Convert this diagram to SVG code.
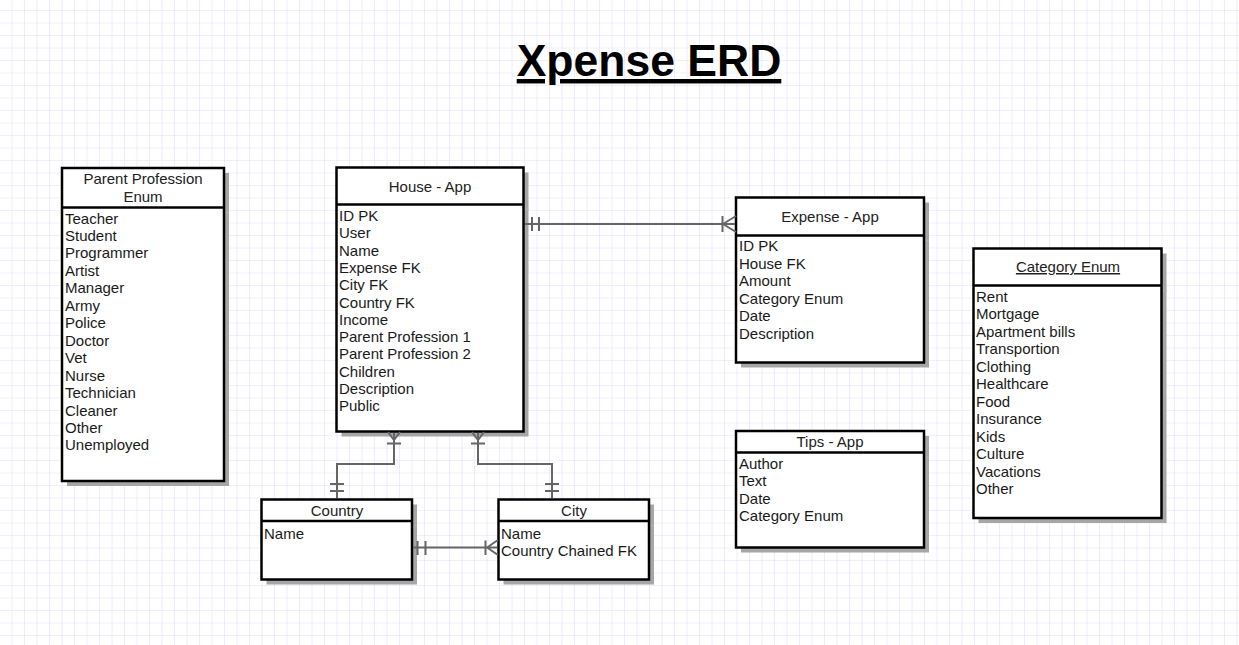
<svg xmlns="http://www.w3.org/2000/svg" width="1239" height="645" viewBox="0 0 1239 645">
<defs>
<pattern id="grid" x="0" y="-1.5" width="12.5" height="12.5" patternUnits="userSpaceOnUse">
<path d="M12.5 0V12.5M0 12.5H12.5" fill="none" stroke="#e2dffc" stroke-width="1.2"/>
</pattern>
<filter id="blur" x="-5%" y="-5%" width="110%" height="110%"><feGaussianBlur stdDeviation="0.5"/></filter>
</defs>
<style>
.box{fill:#fff;stroke:#000;stroke-width:2.5}
.div{stroke:#000;stroke-width:2.5}
.shadow{fill:#a6a6a6;filter:url(#blur)}
.sdiv{stroke:#b0b0b0;stroke-width:1.5}
.hd{font-family:"Liberation Sans",Arial,sans-serif;font-size:15px;fill:#222;text-anchor:middle}
.tx{font-family:"Liberation Sans",Arial,sans-serif;font-size:15px;fill:#1a1a1a}
.cn{fill:none;stroke:#666;stroke-width:2}
.title{font-family:"Liberation Sans",Arial,sans-serif;font-size:44.5px;font-weight:bold;fill:#000;text-anchor:middle;text-decoration:underline}
</style>
<rect width="1239" height="645" fill="#fff"/>
<rect width="1239" height="645" fill="url(#grid)"/>

<text class="title" x="649" y="76">Xpense ERD</text>

<g id="parent-profession">
<rect class="shadow" x="67" y="173" width="162" height="313"/>
<line class="sdiv" x1="224" y1="212.5" x2="229" y2="212.5"/>
<rect class="box" x="62" y="168" width="162" height="313"/>
<line class="div" x1="62" y1="207.5" x2="224" y2="207.5"/>
<text class="hd" x="143" y="184">Parent Profession</text>
<text class="hd" x="143" y="202">Enum</text>
<text class="tx" x="65" y="223.5">Teacher</text>
<text class="tx" x="65" y="241">Student</text>
<text class="tx" x="65" y="258.4">Programmer</text>
<text class="tx" x="65" y="275.9">Artist</text>
<text class="tx" x="65" y="293.3">Manager</text>
<text class="tx" x="65" y="310.8">Army</text>
<text class="tx" x="65" y="328.2">Police</text>
<text class="tx" x="65" y="345.7">Doctor</text>
<text class="tx" x="65" y="363.1">Vet</text>
<text class="tx" x="65" y="380.6">Nurse</text>
<text class="tx" x="65" y="398">Technician</text>
<text class="tx" x="65" y="415.5">Cleaner</text>
<text class="tx" x="65" y="432.9">Other</text>
<text class="tx" x="65" y="450.4">Unemployed</text>
</g>

<g id="house-app">
<rect class="shadow" x="341.5" y="172.5" width="187" height="264"/>
<line class="sdiv" x1="523" y1="209.5" x2="528.5" y2="209.5"/>
<rect class="box" x="336.5" y="167.5" width="187" height="264"/>
<line class="div" x1="336.5" y1="204.5" x2="523.5" y2="204.5"/>
<text class="hd" x="430" y="192">House - App</text>
<text class="tx" x="339" y="221">ID PK</text>
<text class="tx" x="339" y="238.3">User</text>
<text class="tx" x="339" y="255.6">Name</text>
<text class="tx" x="339" y="272.9">Expense FK</text>
<text class="tx" x="339" y="290.2">City FK</text>
<text class="tx" x="339" y="307.5">Country FK</text>
<text class="tx" x="339" y="324.8">Income</text>
<text class="tx" x="339" y="342.1">Parent Profession 1</text>
<text class="tx" x="339" y="359.4">Parent Profession 2</text>
<text class="tx" x="339" y="376.7">Children</text>
<text class="tx" x="339" y="394">Description</text>
<text class="tx" x="339" y="411.3">Public</text>
</g>

<g id="expense-app">
<rect class="shadow" x="741" y="202.5" width="188" height="165"/>
<line class="sdiv" x1="924" y1="240.5" x2="929" y2="240.5"/>
<rect class="box" x="736" y="197.5" width="188" height="165"/>
<line class="div" x1="736" y1="235.5" x2="924" y2="235.5"/>
<text class="hd" x="830" y="222">Expense - App</text>
<text class="tx" x="739" y="251">ID PK</text>
<text class="tx" x="739" y="268.6">House FK</text>
<text class="tx" x="739" y="286.2">Amount</text>
<text class="tx" x="739" y="303.8">Category Enum</text>
<text class="tx" x="739" y="321.4">Date</text>
<text class="tx" x="739" y="339">Description</text>
</g>

<g id="category-enum">
<rect class="shadow" x="978.5" y="253.5" width="188" height="269.5"/>
<line class="sdiv" x1="1162" y1="290.5" x2="1167" y2="290.5"/>
<rect class="box" x="973.5" y="248.5" width="188" height="269.5"/>
<line class="div" x1="973.5" y1="285.5" x2="1161.5" y2="285.5"/>
<text class="hd" x="1068" y="272" text-decoration="underline">Category Enum</text>
<text class="tx" x="976" y="301.5">Rent</text>
<text class="tx" x="976" y="319">Mortgage</text>
<text class="tx" x="976" y="336.5">Apartment bills</text>
<text class="tx" x="976" y="354">Transportion</text>
<text class="tx" x="976" y="371.5">Clothing</text>
<text class="tx" x="976" y="389">Healthcare</text>
<text class="tx" x="976" y="406.5">Food</text>
<text class="tx" x="976" y="424">Insurance</text>
<text class="tx" x="976" y="441.5">Kids</text>
<text class="tx" x="976" y="459">Culture</text>
<text class="tx" x="976" y="476.5">Vacations</text>
<text class="tx" x="976" y="494">Other</text>
</g>

<g id="tips-app">
<rect class="shadow" x="741" y="436" width="188" height="116.5"/>
<line class="sdiv" x1="924" y1="457.5" x2="929" y2="457.5"/>
<rect class="box" x="736" y="431" width="188" height="116.5"/>
<line class="div" x1="736" y1="452.5" x2="924" y2="452.5"/>
<text class="hd" x="830" y="447">Tips - App</text>
<text class="tx" x="739" y="468.5">Author</text>
<text class="tx" x="739" y="486.1">Text</text>
<text class="tx" x="739" y="503.7">Date</text>
<text class="tx" x="739" y="521.3">Category Enum</text>
</g>

<g id="country">
<rect class="shadow" x="266.5" y="504.5" width="150.5" height="80"/>
<line class="sdiv" x1="412" y1="525.5" x2="417" y2="525.5"/>
<rect class="box" x="261.5" y="499.5" width="150.5" height="80"/>
<line class="div" x1="261.5" y1="521" x2="412" y2="521"/>
<text class="hd" x="337" y="516">Country</text>
<text class="tx" x="264" y="538.5">Name</text>
</g>

<g id="city">
<rect class="shadow" x="503.5" y="504.5" width="150.5" height="80"/>
<line class="sdiv" x1="649" y1="525.5" x2="654" y2="525.5"/>
<rect class="box" x="498.5" y="499.5" width="150.5" height="80"/>
<line class="div" x1="498.5" y1="521" x2="649" y2="521"/>
<text class="hd" x="574" y="516">City</text>
<text class="tx" x="501" y="538.5">Name</text>
<text class="tx" x="501" y="556">Country Chained FK</text>
</g>

<g id="connectors">
<!-- House - Expense -->
<path class="cn" d="M525 224H735M532 217V231M539 217V231M722.5 216V232M723 224L736 216M723 224L736 232"/>
<!-- House - Country -->
<path class="cn" d="M394 433V464H337V498M388 432L394 440L400 432M387 443.5H401M330 484H344M330 491H344"/>
<!-- House - City -->
<path class="cn" d="M478 433V464H552V498M472 432L478 440L484 432M471 443.5H485M545 484H559M545 491H559"/>
<!-- Country - City -->
<path class="cn" d="M413 547.5H497M417.5 541V555M425.5 541V555M485.5 540.5V555M487 547.5L498 540M487 547.5L498 555"/>
</g>
</svg>
